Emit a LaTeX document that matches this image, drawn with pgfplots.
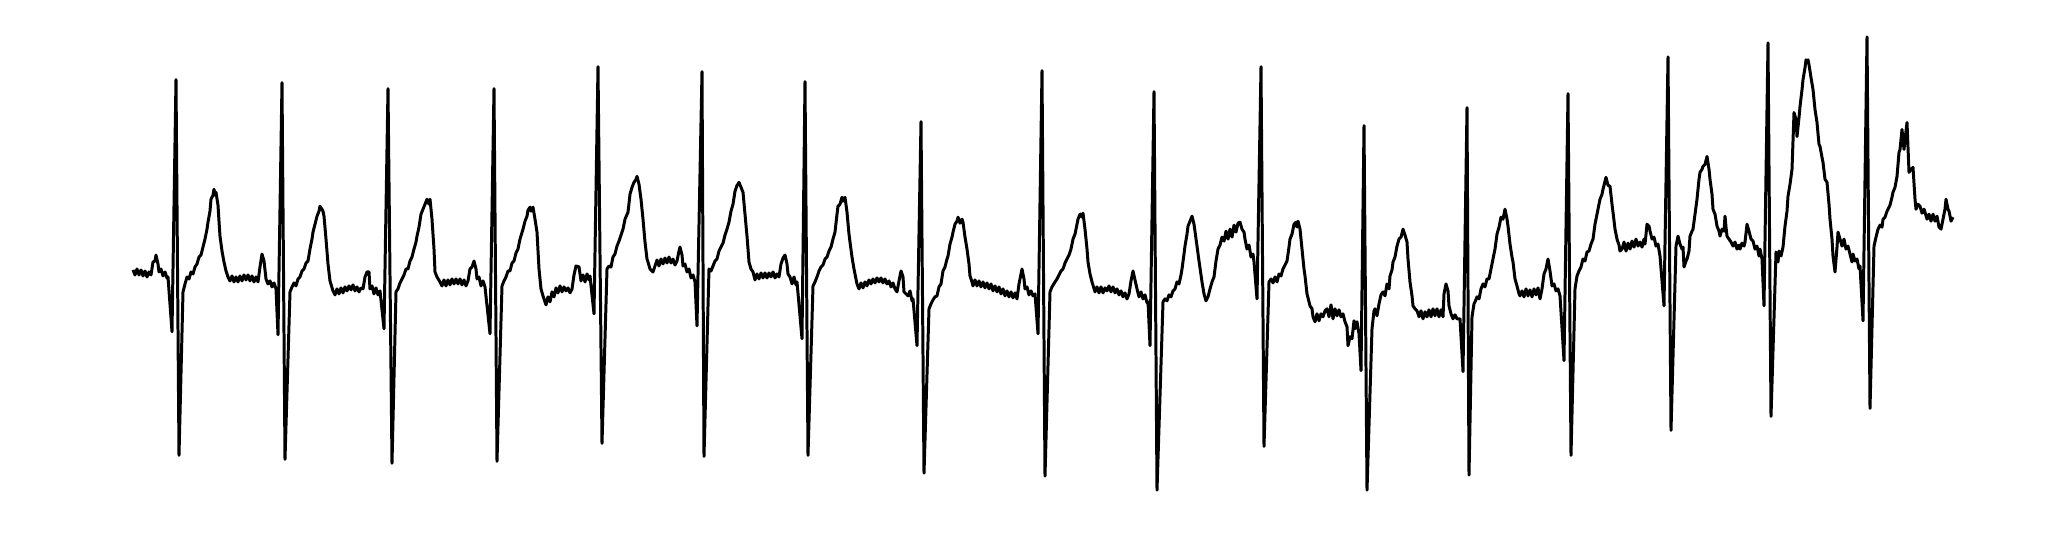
\documentclass[border=0pt]{standalone}
\usepackage{pgfplots}
\pgfplotsset{compat=1.18}
\begin{document}
\begin{tikzpicture}
\begin{axis}[scale only axis, width=20.46cm, height=5.36cm,
  xmin=0, xmax=2046, ymin=0, ymax=538, y dir=reverse,
  hide axis, clip=false]
\path (rel axis cs:0,0) rectangle (rel axis cs:1,1);
\addplot[black, line width=0.85pt, line join=round, mark=none] coordinates {
(133,271)(135,276)(137,270)(139,276)(141,271)(143,277)(145,272)(147,278)(149,273)(151,276)(153,263)(155,262)(156,256)(158,265)(159,273)(161,270)(163,277)(165,273)(167,279)(168,278)
(172,333)(176,80)(179,457)
(183,293)(185,285)(187,278)(189,280)(191,273)(193,275)(195,268)(197,265)(199,258)(201,256)(203,248)(205,240)(207,230)(208,223)(210,212)(211,200)(213,196)(214,190)(215,196)(216,193)(218,206)(219,222)(220,237)(222,252)(224,263)(226,272)(228,278)
(230,282)(232,277)(234,283)(236,278)(238,283)(240,277)(242,282)(244,276)(246,281)(248,276)(250,282)(252,277)(254,283)(256,278)(258,283)
(260,268)(262,255)(264,262)(266,280)(268,285)(270,282)(272,288)(274,284)(276,290)
(278,336)(282,83)(285,461)
(290,293)(292,288)(294,284)(296,287)(298,280)(300,278)(302,272)(304,270)(306,264)(308,262)(310,250)(312,240)(313,233)(315,225)(317,217)(319,212)(320,207)(322,210)(323,212)(324,217)(326,240)(328,265)(330,282)(333,292)
(335,296)(337,290)(339,295)(341,289)(343,294)(345,288)(347,292)(349,287)(351,291)(353,286)(355,292)(357,288)(359,293)(361,289)(363,290)
(365,278)(367,273)(369,273)(370,290)(372,287)(374,295)(376,289)(378,296)(380,292)
(384,330)(388,89)(392,465)
(396,293)(398,290)(400,284)(402,280)(404,276)(406,270)(408,270)(410,262)(412,258)(414,250)(416,243)(417,237)(419,228)(421,215)(423,210)(425,205)(427,200)(429,205)(430,200)(432,220)(434,250)(435,273)(437,278)(440,283)
(442,287)(444,281)(446,287)(448,281)(450,286)(452,280)(454,285)(456,280)(458,285)(460,280)(462,286)(464,281)(466,287)(468,282)
(470,270)(472,268)(474,262)(476,270)(477,280)(479,278)(481,287)(483,282)(485,288)
(490,335)(494,89)(497,463)
(502,287)(504,282)(506,278)(508,272)(510,272)(512,264)(514,262)(516,254)(518,250)(520,240)(523,230)(525,222)(527,217)(528,211)(530,208)(531,212)(533,208)(535,220)(537,233)(539,270)(541,290)(543,297)(545,303)(546,306)
(548,298)(550,303)(552,293)(554,298)(556,289)(558,294)(560,287)(562,293)(564,288)(566,292)(568,289)(570,294)(572,290)
(574,276)(576,267)(579,268)(581,282)(583,276)(585,283)(587,275)(589,281)(590,277)
(594,315)(598,67)(602,445)
(607,270)(609,267)(611,268)(613,258)(615,255)(617,247)(619,242)(621,236)(623,230)(625,220)(628,213)(630,195)(632,188)(634,183)(636,180)(637,177)(639,185)(641,200)(643,220)(645,243)(647,260)(648,263)(650,270)(653,273)
(655,267)(657,261)(659,267)(661,260)(663,265)(665,259)(667,264)(669,258)(671,264)(673,260)(675,266)(677,262)
(679,252)(680,248)(682,256)(683,267)(685,265)(687,273)(689,270)(691,279)(693,276)(695,283)
(697,327)(702,72)(704,458)
(709,270)(711,272)(713,267)(715,262)(717,260)(719,252)(721,248)(723,244)(725,236)(727,230)(729,223)(731,212)(733,205)(735,192)(737,186)(738,185)(739,183)(741,188)(743,193)(745,215)(747,237)(749,263)(751,270)(753,273)
(755,281)(757,275)(759,280)(761,274)(763,279)(765,274)(767,279)(769,274)(771,278)(773,273)(775,279)(777,275)(779,278)
(781,265)(783,259)(785,256)(787,265)(788,275)(790,278)(792,285)(794,278)(796,286)(797,283)
(802,340)(805,82)(808,457)
(813,287)(815,283)(817,278)(819,272)(821,268)(823,266)(825,260)(827,258)(829,252)(831,248)(833,240)(835,233)(837,215)(838,207)(840,205)(842,198)(843,202)(845,198)(847,213)(849,235)(850,243)(852,258)(854,270)(857,285)
(859,290)(861,284)(863,289)(865,283)(867,287)(869,281)(871,285)(873,280)(875,284)(877,279)(879,283)(881,279)(883,284)(885,280)(887,285)(889,282)(891,288)(893,284)(895,290)(897,293)
(899,282)(901,272)(903,278)(904,293)(906,295)(908,297)(910,292)(912,302)(913,300)
(917,347)(921,122)(924,475)
(929,310)(931,305)(933,301)(935,298)(937,297)(939,288)(941,285)(943,272)(945,268)(947,260)(948,257)(950,245)(952,238)(953,233)(955,225)(957,222)(958,218)(960,224)(962,220)(963,223)(965,238)(967,250)(969,265)(970,277)(972,283)(973,287)
(975,281)(977,287)(979,282)(981,288)(983,283)(985,289)(987,284)(989,290)(991,285)(993,292)(995,287)(997,293)(999,288)(1001,295)(1003,290)(1005,297)(1007,292)(1009,298)(1011,293)(1013,299)(1015,294)(1017,300)
(1019,285)(1022,270)(1024,280)(1025,290)(1027,288)(1029,296)(1031,292)(1033,297)(1035,295)
(1038,335)(1042,71)(1045,478)
(1050,293)(1052,288)(1055,283)(1057,280)(1059,276)(1061,272)(1063,270)(1065,264)(1067,260)(1069,256)(1071,250)(1073,240)(1075,235)(1077,225)(1078,220)(1080,215)(1081,215)(1082,218)(1083,214)(1085,230)(1087,250)(1088,263)(1090,275)(1092,283)(1095,293)
(1097,288)(1099,294)(1101,288)(1103,294)(1105,289)(1107,292)(1109,287)(1111,293)(1113,288)(1115,294)(1117,290)(1119,296)(1121,292)(1123,298)(1125,294)(1127,300)(1129,295)
(1131,282)(1133,272)(1135,281)(1137,290)(1139,298)(1141,293)(1143,300)(1145,296)(1147,304)(1148,303)
(1150,347)(1154,92)(1157,492)
(1163,303)(1165,300)(1167,302)(1169,296)(1171,298)(1173,292)(1175,290)(1177,283)(1179,285)(1181,276)(1182,270)(1184,255)(1185,247)(1187,235)(1188,227)(1190,222)(1192,217)(1194,225)(1197,247)(1199,262)(1202,283)(1204,295)(1206,302)
(1208,298)(1210,290)(1212,283)(1214,278)(1216,262)(1218,250)(1220,246)(1222,238)(1224,242)(1226,232)(1228,240)(1230,230)(1232,238)(1234,226)(1236,233)(1238,224)(1240,223)(1242,230)(1244,233)(1245,240)(1247,250)(1249,246)(1251,258)(1253,255)(1254,263)
(1257,300)(1261,67)(1264,448)
(1269,283)(1271,280)(1273,284)(1275,278)(1277,283)(1279,275)(1281,277)(1283,270)(1285,266)(1287,262)(1289,248)(1290,240)(1292,235)(1294,225)(1296,223)(1297,228)(1298,222)(1300,230)(1302,250)(1304,270)(1305,277)(1307,295)(1310,307)(1312,310)(1313,318)(1315,323)
(1317,315)(1319,322)(1321,315)(1323,318)(1325,312)(1327,310)(1329,318)(1331,306)(1333,320)(1335,310)(1337,317)(1339,311)(1341,318)(1343,315)(1345,323)(1347,328)(1348,347)(1350,338)(1352,340)(1354,322)(1355,330)(1357,323)(1359,335)
(1361,372)(1364,126)(1367,492)
(1372,330)(1374,312)(1375,310)(1377,317)(1379,305)(1381,296)(1383,293)(1385,297)(1387,285)(1389,290)(1390,277)(1392,271)(1393,263)(1395,258)(1397,247)(1399,240)(1401,238)(1403,230)(1405,236)(1407,243)(1408,260)(1410,283)(1412,297)(1413,307)(1415,310)(1417,312)
(1419,318)(1421,312)(1423,320)(1425,313)(1427,318)(1429,311)(1431,318)(1433,310)(1435,317)(1437,310)(1439,318)(1441,311)(1443,318)
(1444,295)(1446,285)(1448,292)(1449,307)(1451,315)(1453,320)(1455,316)(1457,320)(1460,320)
(1463,373)(1467,108)(1469,477)
(1472,318)(1474,305)(1475,303)(1477,298)(1479,300)(1481,290)(1483,285)(1485,288)(1487,280)(1489,280)(1491,270)(1493,260)(1495,250)(1497,235)(1499,228)(1501,218)(1503,220)(1505,210)(1507,220)(1508,227)(1510,245)(1512,258)(1513,263)(1515,280)(1517,287)(1519,295)(1520,297)
(1522,292)(1524,298)(1526,290)(1528,297)(1530,291)(1532,298)(1534,290)(1536,296)(1538,289)(1540,300)(1542,290)
(1544,275)(1546,270)(1548,260)(1550,272)(1552,287)(1554,285)(1556,292)(1558,290)(1560,297)
(1564,362)(1568,94)(1571,457)
(1575,290)(1577,277)(1579,272)(1581,268)(1583,260)(1585,262)(1587,253)(1589,252)(1591,245)(1593,240)(1595,225)(1597,215)(1598,210)(1600,200)(1602,195)(1603,190)(1605,182)(1606,178)(1608,186)(1610,187)(1612,205)(1613,213)(1615,230)(1617,240)(1619,246)(1620,252)
(1622,250)(1624,243)(1626,252)(1628,244)(1630,250)(1632,242)(1634,248)(1636,240)(1638,247)(1640,243)(1642,248)(1644,240)(1645,245)
(1647,225)(1649,227)(1650,232)(1652,240)(1654,238)(1656,247)(1658,245)(1660,257)
(1664,307)(1668,57)(1671,432)
(1676,247)(1678,237)(1680,245)(1682,250)(1683,248)(1684,268)(1686,262)(1687,260)(1689,252)(1690,237)(1692,232)(1693,230)(1695,215)(1697,200)(1699,180)(1700,173)(1702,170)(1703,167)(1705,165)(1707,157)(1709,170)(1710,180)(1712,195)(1713,210)(1715,215)(1717,227)(1719,232)(1720,237)(1722,230)(1724,232)(1725,217)(1726,228)(1727,237)(1729,240)(1731,243)(1733,247)(1735,243)(1737,250)(1739,246)(1740,250)(1742,244)(1744,247)(1745,243)
(1747,225)(1749,232)(1751,240)(1753,242)(1755,250)(1757,247)(1759,257)(1760,250)(1762,260)
(1764,307)(1768,43)(1771,418)
(1776,253)(1778,263)(1779,252)(1781,257)(1783,248)(1785,227)(1787,212)(1788,197)(1790,185)(1792,170)(1794,113)(1796,120)(1797,137)(1799,118)(1800,107)(1802,90)(1803,80)(1805,68)(1806,60)(1807,62)(1808,60)(1809,65)(1811,78)(1813,90)(1815,110)(1817,123)(1819,145)(1820,147)(1822,158)(1823,163)(1825,180)(1827,183)(1829,205)(1830,220)(1832,240)(1833,257)(1835,273)(1837,248)(1838,233)(1840,240)(1842,247)(1844,240)(1846,250)(1848,247)(1850,255)(1852,263)(1853,255)(1855,262)(1857,260)(1859,270)(1860,267)
(1863,322)(1867,37)(1870,410)
(1874,247)(1876,238)(1878,230)(1880,226)(1882,228)(1883,220)(1885,218)(1887,212)(1888,210)(1890,206)(1892,198)(1893,193)(1895,188)(1897,177)(1899,153)(1900,150)(1902,130)(1904,150)(1905,140)(1907,123)(1909,173)(1911,170)(1913,168)(1915,200)(1916,210)(1918,205)(1920,207)(1922,214)(1924,210)(1925,213)(1927,220)(1929,215)(1931,222)(1933,215)(1935,222)(1937,217)(1939,228)(1941,230)(1943,220)(1945,210)(1946,200)(1948,210)(1949,212)(1951,222)(1953,218)
};
\end{axis}
\end{tikzpicture}
\end{document}
